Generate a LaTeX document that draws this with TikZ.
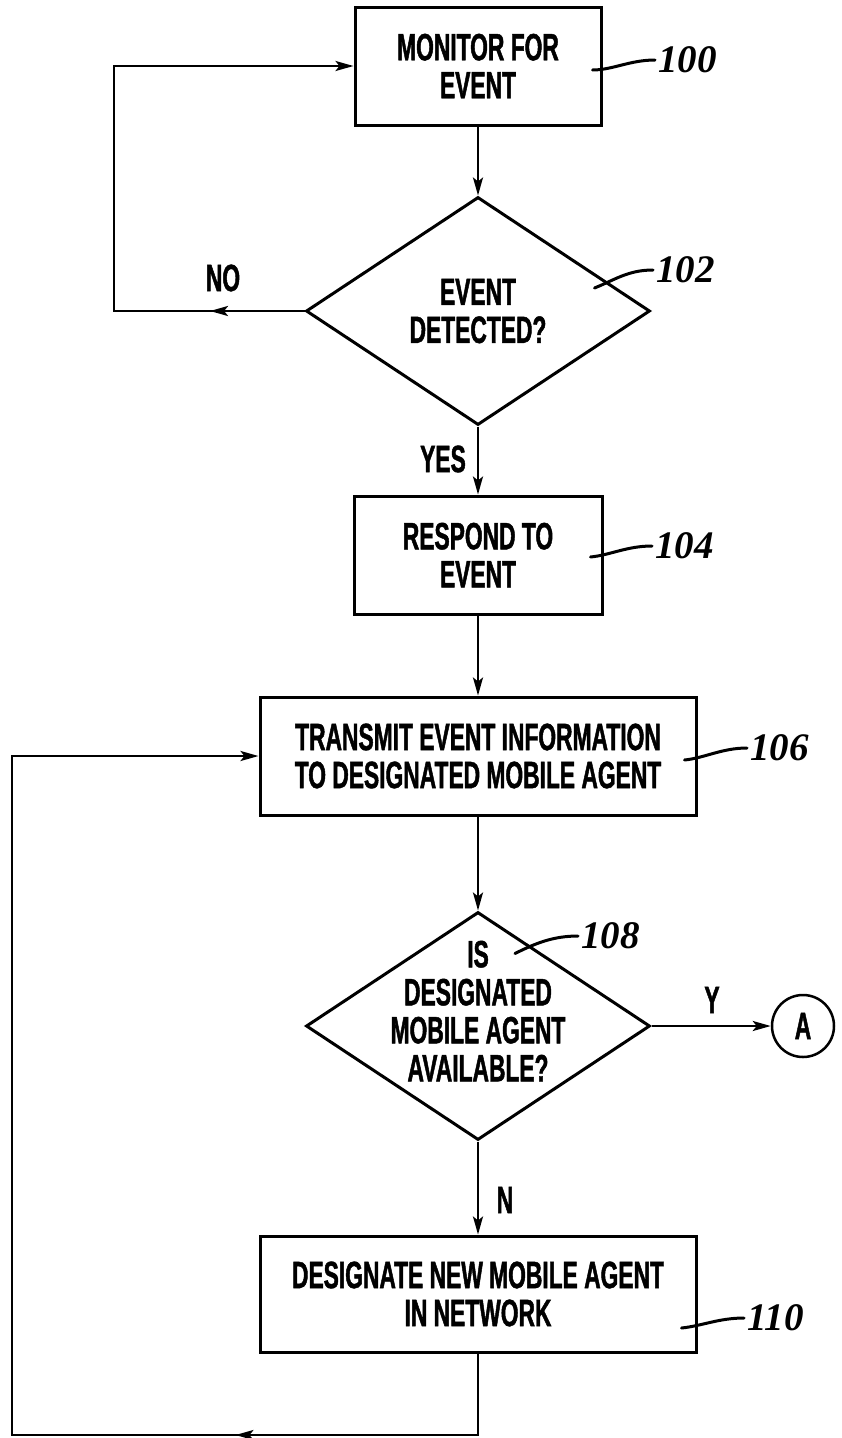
\documentclass[tikz,border=0pt]{standalone}
\usepackage{fontspec}
\usetikzlibrary{shapes.geometric, arrows.meta, positioning, calc, decorations.markings}
\newfontfamily\boxfont[FakeStretch=0.6, FakeBold=1.2]{Liberation Sans}
\newfontfamily\numfont{Liberation Serif}

\begin{document}
\begin{tikzpicture}[x=1pt, y=-1pt,
  process/.style={draw, line width=3pt, minimum height=118pt, inner sep=0pt, align=center,
    font=\boxfont\bfseries\fontsize{38}{38}\selectfont},
  decision/.style={draw, diamond, line width=3pt, minimum width=344pt, minimum height=228pt, inner sep=0pt},
  flowtext/.style={align=center, inner sep=0pt, font=\boxfont\bfseries\fontsize{38}{38}\selectfont},
  refnum/.style={anchor=west, inner sep=3pt, font=\numfont\bfseries\itshape\fontsize{39}{39}\selectfont},
  leader/.style={line width=3pt, line cap=round},
  conn/.style={line width=2.5pt, -{Stealth[length=18pt, width=10pt, inset=4pt]}},
  midarrow/.style={postaction={decorate}, decoration={markings,
    mark=at position #1 with {\arrow{Stealth[length=18pt, width=10pt, inset=4pt]}}}}
]
\useasboundingbox (0,0) rectangle (842,1438);

% boxes and decisions
\node[process, minimum width=246pt] (b100) at (478,66) {MONITOR FOR\\EVENT};
\node[decision] (d102) at (478,311) {};
\node[flowtext] (t102) at (d102) {EVENT\\DETECTED?};
\node[process, minimum width=248pt] (b104) at (478,555) {RESPOND TO\\EVENT};
\node[process, minimum width=436pt] (b106) at (478,756) {TRANSMIT EVENT INFORMATION\\TO DESIGNATED MOBILE AGENT};
\node[decision] (d108) at (478,1026) {};
\node[flowtext] (t108) at (478,1011) {IS\\DESIGNATED\\MOBILE AGENT\\AVAILABLE?};
\node[process, minimum width=436pt, minimum height=116pt] (b110) at (478,1294) {DESIGNATE NEW MOBILE AGENT\\IN NETWORK};
\node[draw, circle, line width=2.5pt, minimum size=62pt, flowtext] (conA) at (803,1026) {A};

% branch labels
\node[flowtext] (no) at (223,278) {NO};
\node[flowtext] (yes) at (443,459) {YES};
\node[flowtext] (yy) at (712,1000) {Y};
\node[flowtext] (nn) at (505,1200) {N};

% reference numerals
\node[refnum] (l100) at (655,60) {100};
\node[refnum] (l102) at (653,270) {102};
\node[refnum] (l104) at (652,546) {104};
\node[refnum] (l106) at (747,748) {106};
\node[refnum] (l108) at (578,936) {108};
\node[refnum] (l110) at (744,1318) {110};

\draw[leader] ([shift={(-10,4)}]b100.east) .. controls +(20,0) and +(-25,0) .. (l100.west);
\draw[leader] ([shift={(-57,-23)}]d102.east) .. controls +(20,-8) and +(-25,0) .. (l102.west);
\draw[leader] ([shift={(-13,2)}]b104.east) .. controls +(20,-2) and +(-25,0) .. (l104.west);
\draw[leader] ([shift={(-13,4)}]b106.east) .. controls +(20,-2) and +(-25,0) .. (l106.west);
\draw[leader] ([shift={(37,43)}]d108.north) .. controls +(20,-10) and +(-25,0) .. (l108.west);
\draw[leader] ([shift={(-16,34)}]b110.east) .. controls +(20,-2) and +(-25,0) .. (l110.west);

% flow
\draw[conn] (b100.south) -- (d102.north);
\draw[conn] (d102.south) -- (b104.north);
\draw[conn] (b104.south) -- (b106.north);
\draw[conn] (b106.south) -- (d108.north);
\draw[conn] (d108.south) -- (b110.north);
\draw[conn] (d108.east) -- (conA.west);

% loops back
\coordinate (noturn) at (114,311);
\draw[conn, midarrow=0.14] (d102.west) -- (noturn) |- (b100.west);
\coordinate (loopbot) at (478,1435);
\coordinate (loopleft) at (12,1435);
\draw[conn, midarrow=0.22] (b110.south) -- (loopbot) -- (loopleft) |- (b106.west);
\end{tikzpicture}
\end{document}
